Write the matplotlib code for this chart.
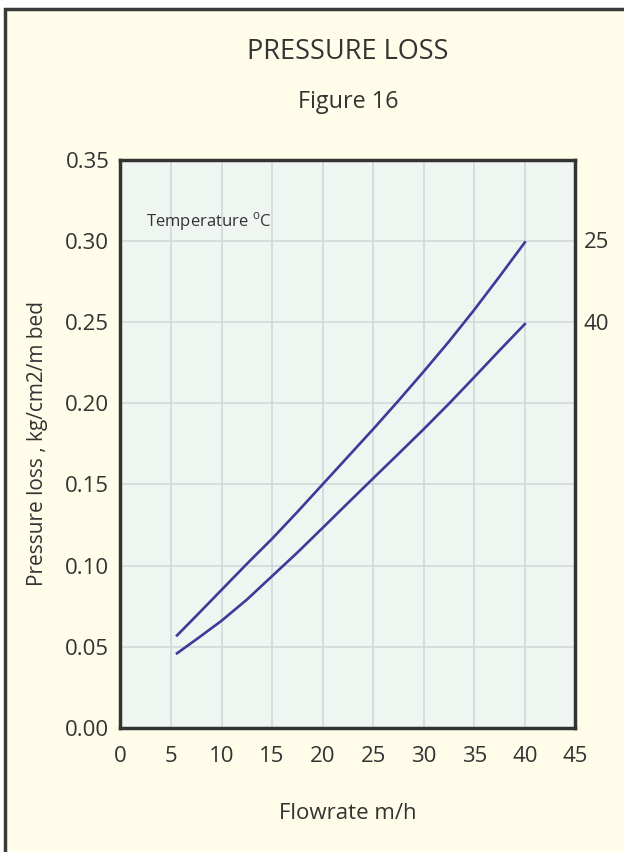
import matplotlib
matplotlib.use('Agg')
import matplotlib.pyplot as plt
from matplotlib.patches import Rectangle

# values (flowrate m/h -> pressure loss kg/cm2/m bed)
flow = [5.6, 7.5, 10, 12.5, 15, 17.5, 20, 22.5, 25, 27.5, 30, 32.5, 35, 37.5, 40]
loss_25 = [0.057, 0.069, 0.085, 0.101, 0.1165, 0.133, 0.150, 0.167, 0.184,
           0.2015, 0.2195, 0.2380, 0.2575, 0.278, 0.299]
loss_40 = [0.046, 0.0545, 0.0660, 0.0790, 0.0935, 0.1080, 0.1232, 0.1385, 0.1537,
           0.1688, 0.1840, 0.1997, 0.2160, 0.2325, 0.2487]
temps = ['25', '40']
xticks = [0, 5, 10, 15, 20, 25, 30, 35, 40, 45]
yticks = [0.00, 0.05, 0.10, 0.15, 0.20, 0.25, 0.30, 0.35]

plt.rcParams['font.family'] = ['Open Sans', 'DejaVu Sans']
txt = '#333333'
cream = '#fffdea'

fig = plt.figure(figsize=(6.24, 8.52), dpi=100)
fig.patch.set_facecolor('white')

# cream panel with dark frame (runs off the right and bottom edge)
fig.patches.append(Rectangle((5/624, -0.05), 1.1, 1 - 9/852 + 0.05,
                             transform=fig.transFigure, facecolor=cream,
                             edgecolor='#3a3a3a', linewidth=2.5, zorder=-10))

ax = fig.add_axes([120.4/624, 124/852, 455/624, 568.5/852])
ax.set_facecolor('#eff5f0')

ax.plot(flow, loss_25, color='#3b3b99', linewidth=1.9, zorder=3)
ax.plot(flow, loss_40, color='#3b3b99', linewidth=1.9, zorder=3)

ax.set_xlim(0, 45)
ax.set_ylim(0, 0.35)
ax.set_xticks(xticks)
ax.set_yticks(yticks)
ax.set_yticklabels(['%.2f' % v for v in yticks])
ax.grid(True, color='#d3d7db', linewidth=1.2)
ax.set_axisbelow(True)
ax.tick_params(length=0, labelsize=16, colors=txt)
ax.tick_params(axis='x', pad=13)
ax.tick_params(axis='y', pad=8)
for s in ax.spines.values():
  s.set_color('#333333')
  s.set_linewidth(2.5)

for t, y in zip(temps, [loss_25[-1], loss_40[-1]]):
  ax.annotate(t, xy=(1, y), xycoords=('axes fraction', 'data'),
              xytext=(6, 0), textcoords='offset points',
              ha='left', va='center', fontsize=16, color=txt)

ax.text(2.5, 0.312, 'Temperature $^{\\mathregular{o}}$C', fontsize=12, color=txt,
        ha='left', va='center')

ax.set_xlabel('Flowrate m/h', fontsize=16, color=txt, labelpad=26)
ax.set_ylabel('Pressure loss , kg/cm2/m bed', fontsize=15, color=txt, labelpad=12)

fig.text(348/624, 1 - 52/852, 'PRESSURE LOSS', ha='center', va='center',
         fontsize=19.5, color=txt)
fig.text(348/624, 1 - 102/852, 'Figure 16', ha='center', va='center',
         fontsize=16.8, color=txt)

fig.savefig('out.png', dpi=100, facecolor=fig.get_facecolor())
